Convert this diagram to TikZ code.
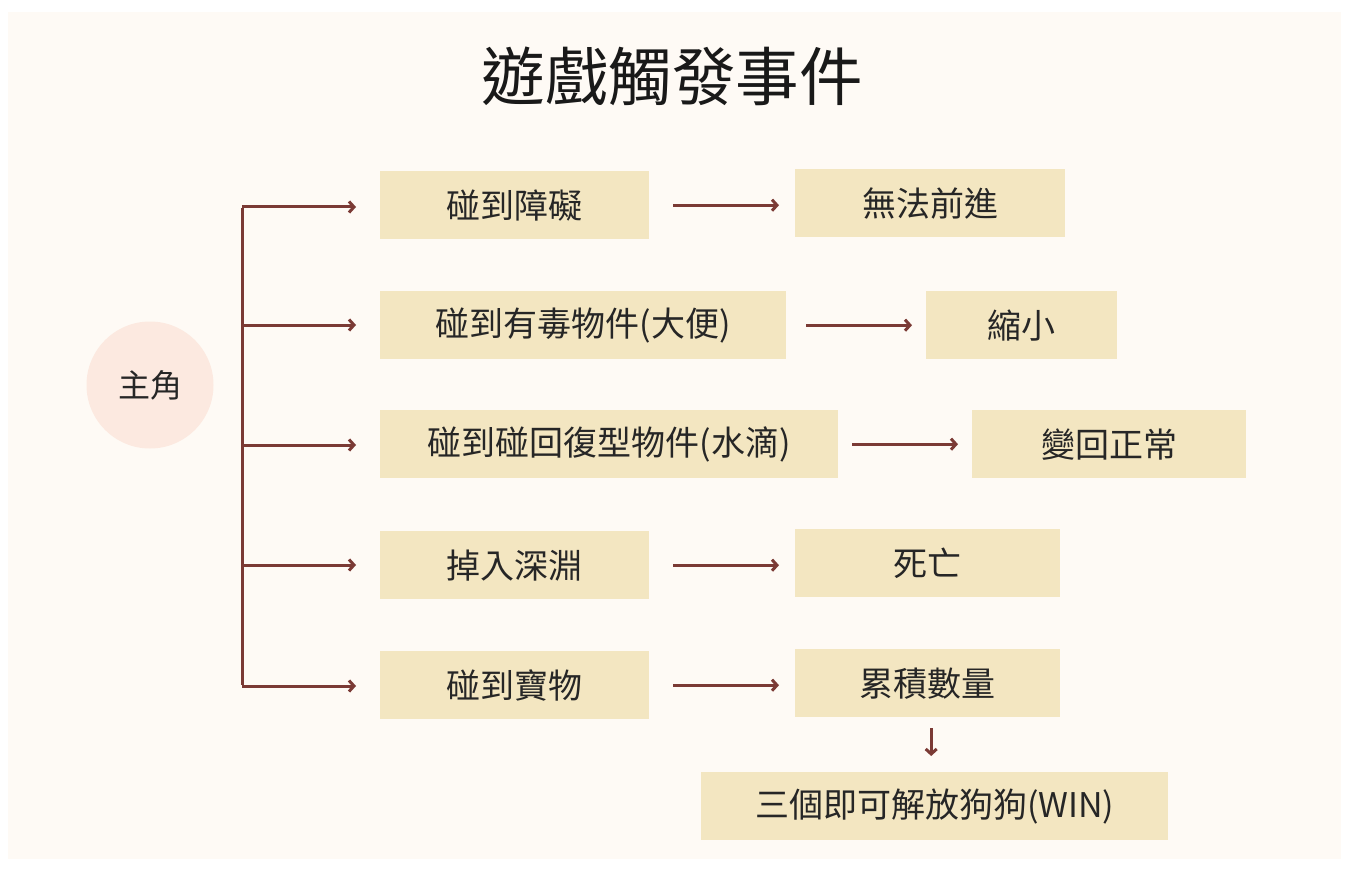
\documentclass[tikz,border=0pt]{standalone}
\usepackage{fontspec}
\setmainfont{Noto Sans CJK TC}
\usetikzlibrary{arrows.meta}
\definecolor{bgc}{HTML}{FEFAF5}
\definecolor{boxc}{HTML}{F3E6C1}
\definecolor{arrc}{HTML}{7B3A35}
\definecolor{circc}{HTML}{FCE9E0}
\tikzset{
  box/.style={fill=boxc, anchor=north west, inner sep=0pt, font=\fontsize{34}{37}\selectfont, text=black!85},
  arr/.style={draw=arrc, line width=3pt, -{Straight Barb[length=5pt,width=11pt,line width=3pt]}},
  trunk/.style={draw=arrc, line width=3pt},
}
\begin{document}
\begin{tikzpicture}[x=1pt,y=-1pt]
\useasboundingbox (0,0) rectangle (1364,874);
\fill[white] (0,0) rectangle (1364,874);
\fill[bgc] (8,12) rectangle (1341,859);
\node[font=\fontsize{63.5}{70}\selectfont, text=black!90] (title) at (672,76) {遊戲觸發事件};
\node[circle, fill=circc, minimum size=127pt, inner sep=0pt, font=\fontsize{32}{35}\selectfont, text=black!85] (hero) at (150,385) {主角};
% first column
\node[box, minimum width=269pt, minimum height=68pt] (a1) at (380,171) {碰到障礙};
\node[box, minimum width=406pt, minimum height=68pt] (a2) at (380,291) {碰到有毒物件(大便)};
\node[box, minimum width=458pt, minimum height=68pt] (a3) at (380,410) {碰到碰回復型物件(水滴)};
\node[box, minimum width=269pt, minimum height=68pt] (a4) at (380,531) {掉入深淵};
\node[box, minimum width=269pt, minimum height=68pt] (a5) at (380,651) {碰到寶物};
% second column
\node[box, minimum width=270pt, minimum height=68pt] (c1) at (795,169) {無法前進};
\node[box, minimum width=191pt, minimum height=68pt] (c2) at (926,291) {縮小};
\node[box, minimum width=274pt, minimum height=68pt] (c3) at (972,410) {變回正常};
\node[box, minimum width=265pt, minimum height=68pt] (c4) at (795,529) {死亡};
\node[box, minimum width=265pt, minimum height=68pt] (c5) at (795,649) {累積數量};
\node[box, minimum width=467pt, minimum height=68pt] (win) at (701,772) {三個即可解放狗狗(WIN)};
% trunk
\coordinate (j1) at (242,207);
\coordinate (j2) at (242,325);
\coordinate (j3) at (242,445);
\coordinate (j4) at (242,565);
\coordinate (j5) at (242,686);
\draw[trunk] ([yshift=-1.5pt]j1) -- ([yshift=1.5pt]j5);
\draw[arr, shorten >=24pt] (j1) -- (j1 -| a1.west);
\draw[arr, shorten >=24pt] (j2) -- (j2 -| a2.west);
\draw[arr, shorten >=24pt] (j3) -- (j3 -| a3.west);
\draw[arr, shorten >=24pt] (j4) -- (j4 -| a4.west);
\draw[arr, shorten >=24pt] (j5) -- (j5 -| a5.west);
% outcome arrows
\draw[arr, shorten <=24pt, shorten >=16pt] (a1.east) -- (a1.east -| c1.west);
\draw[arr, shorten <=20pt, shorten >=14pt] (a2.east) -- (a2.east -| c2.west);
\draw[arr, shorten <=14pt, shorten >=14pt] (a3.east) -- (a3.east -| c3.west);
\draw[arr, shorten <=24pt, shorten >=16pt] (a4.east) -- (a4.east -| c4.west);
\draw[arr, shorten <=24pt, shorten >=16pt] (a5.east) -- (a5.east -| c5.west);
\draw[arr, shorten <=11pt, shorten >=16pt] ([xshift=3.5pt]c5.south) -- ([xshift=-3.5pt]win.north);
\end{tikzpicture}
\end{document}
